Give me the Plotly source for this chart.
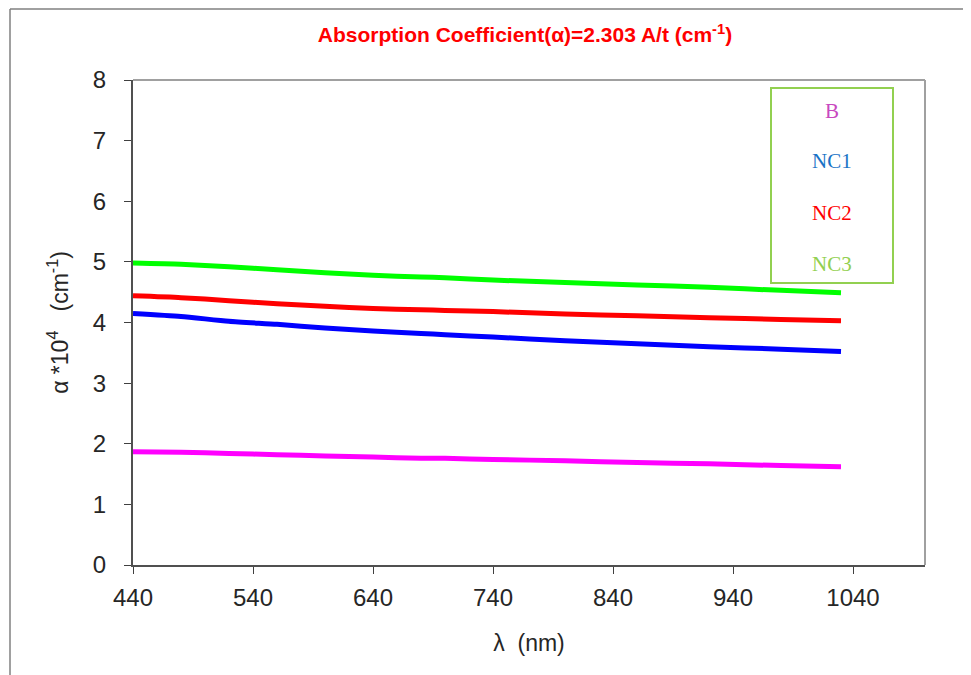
import plotly.graph_objects as go

# ---- data ----
wavelength = [440, 480, 520, 560, 600, 640, 680, 700, 740, 800, 860, 920, 980, 1030]
alpha_B   = [1.87, 1.86, 1.84, 1.82, 1.80, 1.78, 1.76, 1.76, 1.74, 1.72, 1.69, 1.67, 1.64, 1.62]
alpha_NC1 = [4.15, 4.10, 4.02, 3.97, 3.91, 3.86, 3.82, 3.80, 3.76, 3.70, 3.65, 3.60, 3.56, 3.52]
alpha_NC2 = [4.44, 4.41, 4.36, 4.31, 4.27, 4.23, 4.21, 4.20, 4.18, 4.14, 4.11, 4.08, 4.05, 4.03]
alpha_NC3 = [4.98, 4.96, 4.92, 4.87, 4.82, 4.78, 4.75, 4.74, 4.70, 4.66, 4.62, 4.58, 4.53, 4.49]

series_names = ["B", "NC1", "NC2", "NC3"]
series_values = [alpha_B, alpha_NC1, alpha_NC2, alpha_NC3]
line_colors = ["#FF00FF", "#0000FF", "#FF0000", "#00FF00"]
legend_colors = ["#C848C0", "#1A73C6", "#FF0000", "#92D050"]

x_ticks = [440, 540, 640, 740, 840, 940, 1040]
y_ticks = [0, 1, 2, 3, 4, 5, 6, 7, 8]

OFF = 8  # page body margin
W, H = 971 - OFF, 675 - OFF
L, R, T, B = 133 - OFF, 925 - OFF, 80 - OFF, 565 - OFF


def px(xp):
    return (xp - OFF - L) / (R - L)


def py(yp):
    return (B - (yp - OFF)) / (B - T)


fig = go.Figure()
for name, vals, col in zip(series_names, series_values, line_colors):
    fig.add_trace(go.Scatter(x=wavelength, y=vals, mode="lines", name=name,
                             line=dict(color=col, width=5, shape="spline", smoothing=0.6),
                             showlegend=False))

axis_font = dict(family="Liberation Sans, Arial", size=24, color="#262626")
title_font = dict(family="Liberation Sans, Arial", size=23, color="#262626")

fig.update_layout(
    width=W, height=H,
    margin=dict(l=L, r=W - R, t=T, b=H - B),
    paper_bgcolor="white", plot_bgcolor="white",
    title=dict(text="<b>Absorption Coefficient(α)=2.303 A/t (cm<sup>-1</sup>)</b>",
               x=px(525), xref="paper", xanchor="center",
               y=1 - (35 - OFF) / H, yanchor="middle",
               font=dict(family="Liberation Sans, Arial", size=21, color="#FF0000")),
    xaxis=dict(range=[440, 1100], tickvals=x_ticks, ticks="outside", ticklen=7,
               tickcolor="#404040", showline=True, linecolor="#505050", linewidth=2,
               showgrid=False, zeroline=False, tickfont=axis_font, ticklabelstandoff=3,
               title=dict(text="λ  (nm)", font=title_font, standoff=25)),
    yaxis=dict(range=[0, 8], tickvals=y_ticks, ticks="outside", ticklen=7,
               tickcolor="#404040", showline=True, linecolor="#505050", linewidth=2,
               showgrid=False, zeroline=False, tickfont=axis_font, ticklabelstandoff=13,
               title=dict(text="α *10<sup>4</sup>   (cm<sup>-1</sup>)", font=title_font, standoff=18)),
)

# top and right plot frame (grey)
fig.add_shape(type="line", xref="paper", yref="paper", x0=0, x1=1, y0=1, y1=1,
              line=dict(color="#A0A0A0", width=2))
fig.add_shape(type="line", xref="paper", yref="paper", x0=1, x1=1, y0=0, y1=1,
              line=dict(color="#A0A0A0", width=2))

# chart-area border (cropped: top and left only)
fig.add_shape(type="line", xref="paper", yref="paper", x0=px(10), x1=px(971), y0=py(9), y1=py(9),
              line=dict(color="#808080", width=1.5))
fig.add_shape(type="line", xref="paper", yref="paper", x0=px(10), x1=px(10), y0=py(9), y1=py(675),
              line=dict(color="#808080", width=1.5))

# legend box
fig.add_shape(type="rect", xref="paper", yref="paper", x0=px(771), x1=px(893), y0=py(283), y1=py(88),
              line=dict(color="#92D050", width=2), fillcolor="white")
legend_y = [111, 161, 213, 264]
for name, col, ly in zip(series_names, legend_colors, legend_y):
    fig.add_annotation(text=name, xref="paper", yref="paper", x=px(832), y=py(ly),
                       xanchor="center", yanchor="middle", showarrow=False,
                       font=dict(family="Liberation Serif, Times New Roman", size=21, color=col))

fig.write_html("out.html")
